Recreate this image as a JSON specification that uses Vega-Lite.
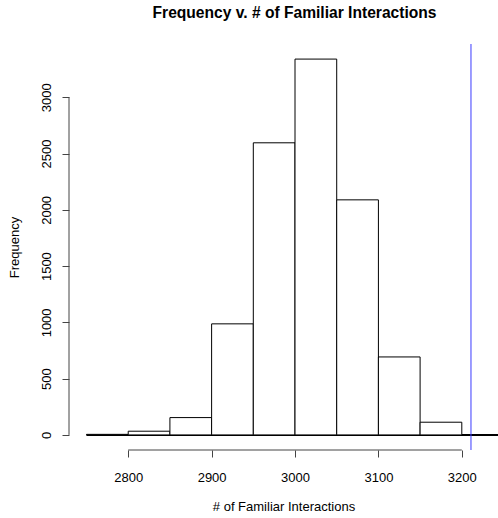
{
  "$schema": "https://vega.github.io/schema/vega-lite/v6.json",
  "width": 429,
  "height": 406,
  "autosize": "none",
  "padding": {"left": 69, "top": 44, "right": 0, "bottom": 68},
  "background": "white",
  "title": {
    "text": "Frequency v. # of Familiar Interactions",
    "fontSize": 15.6,
    "fontWeight": "bold",
    "font": "Liberation Sans",
    "color": "black",
    "anchor": "middle",
    "dx": 11,
    "offset": 22
  },
  "config": {
    "view": {"stroke": null},
    "font": "Liberation Sans",
    "axis": {
      "domain": false,
      "grid": false,
      "tickSize": 7,
      "tickColor": "#444",
      "labelFontSize": 13,
      "labelColor": "black",
      "titleFontSize": 13,
      "titleFontWeight": "normal",
      "titleColor": "black",
      "format": "d"
    }
  },
  "layer": [
    {
      "data": {"values": [{"start": 2750, "end": 3243.4, "level": 0}]},
      "mark": {"type": "rule", "color": "black", "strokeWidth": 2},
      "encoding": {
        "x": {"field": "start", "type": "quantitative", "title": "# of Familiar Interactions"},
        "x2": {"field": "end"},
        "y": {"field": "level", "type": "quantitative", "title": "Frequency"}
      }
    },
    {
      "data": {
        "values": [
          {"start": 2750, "end": 2800, "count": 5},
          {"start": 2800, "end": 2850, "count": 33},
          {"start": 2850, "end": 2900, "count": 154},
          {"start": 2900, "end": 2950, "count": 987},
          {"start": 2950, "end": 3000, "count": 2596},
          {"start": 3000, "end": 3050, "count": 3340},
          {"start": 3050, "end": 3100, "count": 2089},
          {"start": 3100, "end": 3150, "count": 693},
          {"start": 3150, "end": 3200, "count": 113}
        ]
      },
      "mark": {"type": "bar", "fill": "white", "stroke": "black", "strokeWidth": 1},
      "encoding": {
        "x": {
          "field": "start",
          "type": "quantitative",
          "title": "# of Familiar Interactions",
          "scale": {"domain": [2729, 3243.4], "nice": false, "zero": false},
          "axis": {"values": [2800, 2900, 3000, 3100, 3200], "format": "d", "labelPadding": 14, "titlePadding": 16}
        },
        "x2": {"field": "end"},
        "y": {
          "field": "count",
          "type": "quantitative",
          "title": "Frequency",
          "scale": {"domain": [-134, 3474], "nice": false, "zero": false},
          "axis": {"values": [0, 500, 1000, 1500, 2000, 2500, 3000], "format": "d", "labelAngle": 270, "labelAlign": "center", "labelBaseline": "bottom", "labelPadding": 9, "titlePadding": 19}
        },
        "y2": {"datum": 0}
      }
    },
    {
      "data": {"values": [{"value": 3211}]},
      "mark": {"type": "rule", "color": "#3b3bff", "strokeWidth": 1},
      "encoding": {
        "x": {"field": "value", "type": "quantitative", "title": "# of Familiar Interactions"}
      }
    },
    {
      "data": {"values": [{"start": 2800, "end": 3200, "level": -134}]},
      "mark": {"type": "rule", "color": "#444", "strokeWidth": 1},
      "encoding": {
        "x": {"field": "start", "type": "quantitative", "title": "# of Familiar Interactions"},
        "x2": {"field": "end"},
        "y": {"field": "level", "type": "quantitative", "title": "Frequency"}
      }
    },
    {
      "data": {"values": [{"pos": 2729, "low": 0, "high": 3000}]},
      "mark": {"type": "rule", "color": "#444", "strokeWidth": 1},
      "encoding": {
        "x": {"field": "pos", "type": "quantitative", "title": "# of Familiar Interactions"},
        "y": {"field": "low", "type": "quantitative", "title": "Frequency"},
        "y2": {"field": "high"}
      }
    }
  ]
}
